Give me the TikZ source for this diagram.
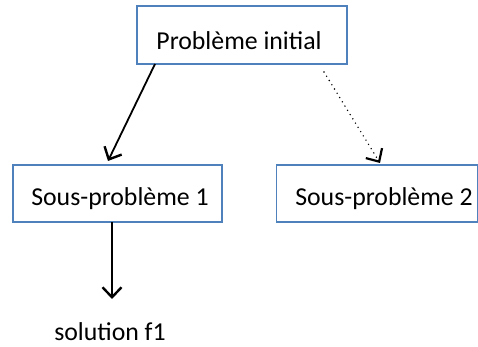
\documentclass[tikz,border=0pt]{standalone}
\usepackage{fontspec}
\setmainfont{Carlito}
\usetikzlibrary{arrows.meta}
\definecolor{boxblue}{RGB}{79,129,189}
\begin{document}
\begin{tikzpicture}[x=1pt,y=-1pt,
  boxst/.style={draw=boxblue,line width=1.6pt,fill=white,inner sep=0pt,anchor=north west},
  txt/.style={anchor=base,font=\fontsize{25.8}{30}\selectfont,inner sep=0pt},
  arr/.style={line width=1.8pt,-{Straight Barb[length=10pt,width=19pt,line width=2.4pt]}}]
\useasboundingbox (0,0) rectangle (478,347);
\node[boxst,minimum width=210pt,minimum height=58pt] (top) at (136,5) {};
\node[boxst,minimum width=209pt,minimum height=57pt] (s1) at (12,164) {};
\node[boxst,minimum width=201pt,minimum height=57pt] (s2) at (275.5,164) {};
\node[txt] (ttop) at (239,50) {Problème initial};
\node[txt] (ts1) at (120,205) {Sous-problème 1};
\node[txt] (ts2) at (384,205) {Sous-problème 2};
\node[txt] (sol) at (110,340) {solution f1};
\coordinate (a1s) at (155,64);
\coordinate (a1e) at (108,161);
\coordinate (a2s) at (324,72);
\coordinate (a2e) at (380,163);
\coordinate (a3s) at (112,222);
\coordinate (a3e) at (112,299);
\draw[arr] (a1s) -- (a1e);
\draw[line width=1.6pt,line cap=round,dash pattern=on 0pt off 5pt,-{Straight Barb[length=10pt,width=19pt,line width=2.2pt]}] (a2s) -- (a2e);
\draw[arr] (a3s) -- (a3e);
\end{tikzpicture}
\end{document}
